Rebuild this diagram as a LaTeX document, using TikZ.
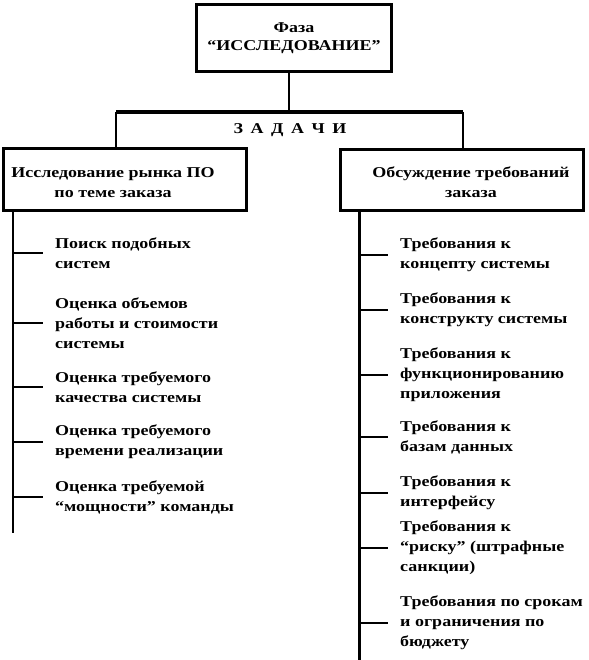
\documentclass[tikz,border=0pt]{standalone}
\usepackage{fontspec}
\setmainfont{Liberation Serif}[FakeStretch=1.2]
\tikzset{
  box/.style={draw, line width=3pt, inner sep=0pt},
  title/.style={align=center, font=\bfseries\fontsize{15}{20}\selectfont},
  item/.style={anchor=west, align=left, inner xsep=12pt, inner ysep=0pt,
    font=\bfseries\fontsize{15}{20}\selectfont},
  bus/.style={line width=4pt},
  drop/.style={line width=2pt},
  spine/.style={line width=2.5pt},
  tick/.style={line width=2pt}
}
\begin{document}
\begin{tikzpicture}[x=1pt, y=-1pt]
  \useasboundingbox (0, 0) rectangle (588, 660);
  \node[box, minimum width=195, minimum height=67, title, font=\bfseries\fontsize{15}{18}\selectfont] (phase) at (294, 38) {Фаза\\“ИССЛЕДОВАНИЕ”};
  \node[title] (tasks) at (290, 130) {З\enspace А\enspace Д\enspace А\enspace Ч\enspace И};
  \node[box, minimum width=243, minimum height=61] (market) at (125, 179.5) {};
  \node[title] (markettext) at (113, 182.5) {Исследование рынка ПО\\по теме заказа};
  \node[box, minimum width=243.5, minimum height=60] (req) at (461.75, 180) {};
  \node[title] (reqtext) at (471, 182.5) {Обсуждение требований\\заказа};
  \coordinate (top) at (289, 112);
  \coordinate (busL) at (116, 112);
  \coordinate (busR) at (463, 112);
  \coordinate (lspine) at (13, 533);
  \coordinate (rspine) at (359.5, 660);
  \draw[drop] (top |- phase.south) -- (top);
  \draw[bus] (busL) -- (busR);
  \draw[drop] (busL) -- (busL |- market.north);
  \draw[drop] (busR) -- (busR |- req.north);
  \draw[spine] (lspine |- market.south) -- (lspine);
  \draw[spine] (rspine |- req.south) -- (rspine);
  \node[item] (l1) at (43, 253) {Поиск подобных\\систем};
  \node[item] (l2) at (43, 323) {Оценка объемов\\работы и стоимости\\системы};
  \node[item] (l3) at (43, 387) {Оценка требуемого\\качества системы};
  \node[item] (l4) at (43, 442) {Оценка требуемого\\времени реализации};
  \node[item] (l5) at (43, 497) {Оценка требуемой\\“мощности” команды};
  \node[item] (r1) at (388, 255) {Требования к\\концепту системы};
  \node[item] (r2) at (388, 310) {Требования к\\конструкту системы};
  \node[item] (r3) at (388, 375) {Требования к\\функционированию\\приложения};
  \node[item] (r4) at (388, 437) {Требования к\\базам данных};
  \node[item] (r5) at (388, 493) {Требования к\\интерфейсу};
  \node[item] (r6) at (388, 548) {Требования к\\“риску” (штрафные\\санкции)};
  \node[item] (r7) at (388, 623) {Требования по срокам\\и ограничения по\\бюджету};
  \draw[tick] (lspine |- l1.west) -- (l1.west);
  \draw[tick] (lspine |- l2.west) -- (l2.west);
  \draw[tick] (lspine |- l3.west) -- (l3.west);
  \draw[tick] (lspine |- l4.west) -- (l4.west);
  \draw[tick] (lspine |- l5.west) -- (l5.west);
  \draw[tick] (rspine |- r1.west) -- (r1.west);
  \draw[tick] (rspine |- r2.west) -- (r2.west);
  \draw[tick] (rspine |- r3.west) -- (r3.west);
  \draw[tick] (rspine |- r4.west) -- (r4.west);
  \draw[tick] (rspine |- r5.west) -- (r5.west);
  \draw[tick] (rspine |- r6.west) -- (r6.west);
  \draw[tick] (rspine |- r7.west) -- (r7.west);
\end{tikzpicture}
\end{document}
